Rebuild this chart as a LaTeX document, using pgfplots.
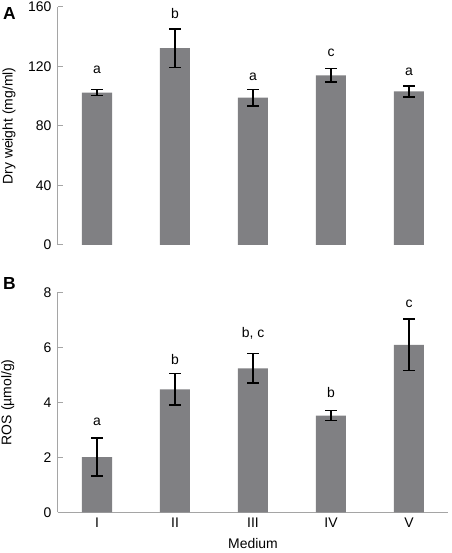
\documentclass[border=0pt]{standalone}
\usepackage{pgfplots}
\pgfplotsset{compat=1.18}
\usepackage{fontspec}
\setmainfont{Liberation Sans}
\definecolor{barg}{RGB}{128,128,131}
\definecolor{axg}{RGB}{165,165,165}
\newcommand{\fs}{\fontsize{14}{16.8}\selectfont}
\pgfplotsset{
  panel/.style={
    scale only axis, width=390bp,
    xmin=-0.5, xmax=4.5, ymin=0,
    clip=false,
    axis y line*=left,
    axis line style={axg, line width=1bp},
    y axis line style={-},
    x axis line style={-},
    ytick style={axg, line width=1bp},
    xtick style={draw=none},
    tick align=inside,
    major tick length=5.5bp,
    /pgf/number format/assume math mode=true,
    tick label style={font=\fs},
    yticklabel style={xshift=-3bp},
    label style={font=\fs},
    every node near coord/.append style={font=\fs, anchor=base, inner sep=0pt, text=black},
  },
  bars/.style={ybar, bar width=30bp, fill=barg, draw=none,
    error bars/.cd, y dir=both, y explicit,
    error bar style={black, line width=1.7bp},
    error mark options={rotate=90, mark size=5.8bp, line width=1.7bp, black}},
}
\begin{document}
\begin{tikzpicture}
\path[use as bounding box] (0,0) rectangle (452bp,553bp);
% Panel A
\begin{axis}[panel,
  at={(58bp,308bp)}, anchor=south west, height=238bp,
  ymax=160, ytick={0,40,80,120,160},
  axis x line=none,
  ylabel={Dry weight (mg/ml)},
  ylabel style={at={(axis description cs:-0.1256,0.5)}, anchor=center},
]
\addplot[bars] coordinates {
  (0,102.5) +- (0,2.1)
  (1,132.4) +- (0,13.0)
  (2,99.0) +- (0,5.6)
  (3,114.0) +- (0,4.6)
  (4,103.3) +- (0,3.7)
};
\addplot[draw=none, mark=none, nodes near coords, point meta=explicit symbolic] coordinates {
  (0,115.0) [a]
  (1,152.2) [b]
  (2,110.9) [a]
  (3,126.6) [c]
  (4,113.7) [a]
};
\end{axis}
% Panel B
\begin{axis}[panel,
  at={(58bp,40.7bp)}, anchor=south west, height=220bp,
  ymax=8, ytick={0,2,4,6,8},
  axis x line*=bottom,
  xtick={0,1,2,3,4}, xticklabels={I,II,III,IV,V},
  xticklabel style={yshift=-2bp},
  xlabel={Medium},
  xlabel style={at={(axis description cs:0.5,-0.1668)}, anchor=base},
  ylabel={ROS (µmol/g)},
  ylabel style={at={(axis description cs:-0.129,0.5)}, anchor=center},
]
\addplot[bars] coordinates {
  (0,2.01) +- (0,0.69)
  (1,4.47) +- (0,0.58)
  (2,5.23) +- (0,0.54)
  (3,3.52) +- (0,0.18)
  (4,6.09) +- (0,0.93)
};
\addplot[draw=none, mark=none, nodes near coords, point meta=explicit symbolic] coordinates {
  (0,3.14) [a]
  (1,5.38) [b]
  (2,6.35) [{b, c}]
  (3,4.19) [b]
  (4,7.44) [c]
};
\end{axis}
\node[anchor=base west, inner sep=0pt, font=\fontsize{17.5}{20}\selectfont\bfseries] at (3bp,533.7bp) {A};
\node[anchor=base west, inner sep=0pt, font=\fontsize{17.5}{20}\selectfont\bfseries] at (3bp,263bp) {B};
\end{tikzpicture}
\end{document}
